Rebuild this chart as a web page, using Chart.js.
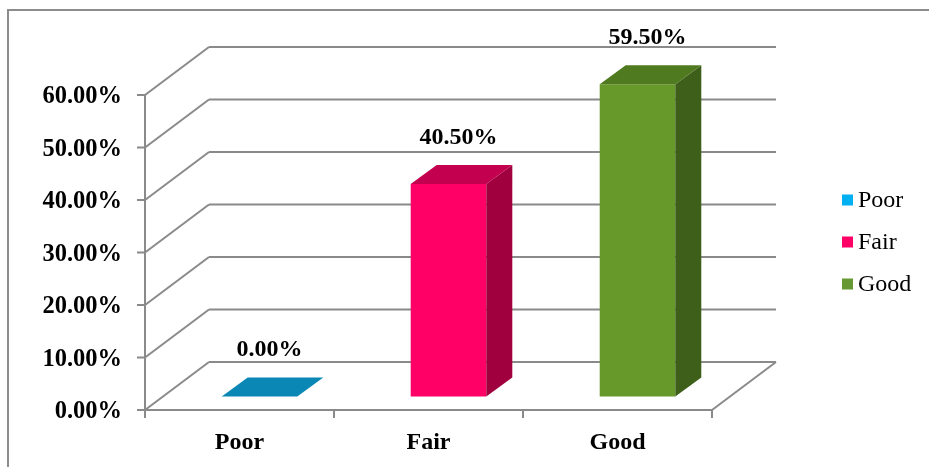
<!DOCTYPE html>
<html>
<head>
<meta charset="utf-8">
<script src="https://cdn.jsdelivr.net/npm/chart.js@4.4.1/dist/chart.umd.min.js"></script>
<style>
  html, body { margin: 0; padding: 0; background: #fff; }
  #wrap { width: 929px; height: 467px; position: relative; }
</style>
</head>
<body>
<div id="wrap"><canvas id="ratingChart"></canvas></div>
<script>
const categories = ["Poor", "Fair", "Good"];
const percentages = [0, 40.5, 59.5];
const axisMax = 60;
const axisStep = 10;

const legendColors = ["#00b0f0", "#ff0066", "#669933"];
const frontColors = ["#0a87b5", "#ff0066", "#66992a"];
const topColors = ["#0a87b5", "#c2004f", "#4f7a1f"];
const sideColors = ["#07678a", "#a1003f", "#3e5f19"];

// oblique depth of the plot box and of each bar
const depth = { dx: 64, dy: -48 };
const barShift = { dx: 20, dy: -13.5 };
const barDepth = { dx: 26, dy: -19 };
const gridColor = "#8a8a8a";
const serif = "'Liberation Serif', 'Times New Roman', serif";

function poly(ctx, pts, fill) {
    ctx.beginPath();
    ctx.moveTo(pts[0][0], pts[0][1]);
    for (let i = 1; i < pts.length; i++) ctx.lineTo(pts[i][0], pts[i][1]);
    ctx.closePath();
    ctx.fillStyle = fill;
    ctx.fill();
}

function line(ctx, x1, y1, x2, y2) {
    ctx.beginPath();
    ctx.moveTo(x1, y1);
    ctx.lineTo(x2, y2);
    ctx.stroke();
}

const box3d = {
    id: "box3d",
    beforeDraw(chart) {
        const ctx = chart.ctx;
        ctx.save();
        ctx.strokeStyle = "#8c8c8c";
        ctx.lineWidth = 2;
        ctx.strokeRect(8, 10, 1200, 1200);
        ctx.restore();
    },
    beforeDatasetsDraw(chart) {
        const ctx = chart.ctx;
        const { left: L, right: R } = chart.chartArea;
        const yScale = chart.scales.y;
        const y0 = yScale.getPixelForValue(0);
        const yTop = yScale.getPixelForValue(axisMax);
        ctx.save();
        ctx.strokeStyle = gridColor;
        ctx.lineWidth = 2;
        yScale.ticks.forEach(t => {
            const y = yScale.getPixelForValue(t.value);
            line(ctx, L, y, L + depth.dx, y + depth.dy);
            line(ctx, L + depth.dx, y + depth.dy, R + depth.dx, y + depth.dy);
            line(ctx, L - 8, y, L, y);
        });
        // floor edges and front axis
        line(ctx, L, y0, R, y0);
        line(ctx, R, y0, R + depth.dx, y0 + depth.dy);
        line(ctx, L, yTop, L, y0);
        const w = (R - L) / categories.length;
        for (let i = 0; i <= categories.length; i++) {
            line(ctx, L + i * w, y0, L + i * w, y0 + 8);
        }
        ctx.restore();
    },
    afterDatasetsDraw(chart) {
        const ctx = chart.ctx;
        const yScale = chart.scales.y;
        const meta = chart.getDatasetMeta(0);
        ctx.save();
        meta.data.forEach((bar, i) => {
            const { x, y, base, width } = bar.getProps(["x", "y", "base", "width"], true);
            const l = x - width / 2 + barShift.dx;
            const r = x + width / 2 + barShift.dx;
            const t = y + barShift.dy;
            const b = base + barShift.dy;
            const dx = barDepth.dx, dy = barDepth.dy;
            if (b - t > 0.5) {
                poly(ctx, [[l, t], [r, t], [r, b], [l, b]], frontColors[i]);
                poly(ctx, [[r, t], [r + dx, t + dy], [r + dx, b + dy], [r, b]], sideColors[i]);
            }
            poly(ctx, [[l, t], [r, t], [r + dx, t + dy], [l + dx, t + dy]], topColors[i]);

            // value label above the bar
            ctx.fillStyle = "#000";
            ctx.font = "bold 24px " + serif;
            ctx.textAlign = "center";
            ctx.textBaseline = "middle";
            const ly = yScale.getPixelForValue(percentages[i]) + depth.dy - 12;
            ctx.fillText(percentages[i].toFixed(2) + "%", x + 30, ly);
        });

        // legend
        ctx.font = "24px " + serif;
        ctx.textAlign = "left";
        ctx.textBaseline = "middle";
        categories.forEach((name, i) => {
            const cy = 200 + i * 42;
            ctx.fillStyle = legendColors[i];
            ctx.fillRect(842, cy - 5.5, 11, 11);
            ctx.fillStyle = "#000";
            ctx.fillText(name, 858, cy + 1);
        });
        ctx.restore();
    }
};

new Chart("ratingChart", {
    type: "bar",
    data: {
        labels: categories,
        datasets: [{
            data: percentages,
            backgroundColor: "rgba(0,0,0,0)",
            borderWidth: 0,
            barPercentage: 0.4,
            categoryPercentage: 1.0,
        }],
    },
    options: {
        responsive: true,
        maintainAspectRatio: false,
        animation: false,
        layout: { padding: { left: 8, top: 95, right: 217, bottom: 0 } },
        plugins: {
            legend: { display: false },
            tooltip: { enabled: false },
        },
        scales: {
            x: {
                grid: { display: false, drawTicks: false },
                border: { display: false },
                ticks: {
                    color: "#000",
                    padding: 18,
                    font: { family: serif, size: 24, weight: "bold" },
                },
                afterFit(scale) { scale.height = 57; },
            },
            y: {
                min: 0,
                max: axisMax,
                grid: { display: false, drawTicks: false },
                border: { display: false },
                ticks: {
                    stepSize: axisStep,
                    color: "#000",
                    padding: 23,
                    labelOffset: 2,
                    font: { family: serif, size: 24.5, weight: "bold" },
                    callback: v => v.toFixed(2) + "%",
                },
                afterFit(scale) { scale.width = 137; },
            },
        },
    },
    plugins: [box3d],
});
</script>
</body>
</html>
